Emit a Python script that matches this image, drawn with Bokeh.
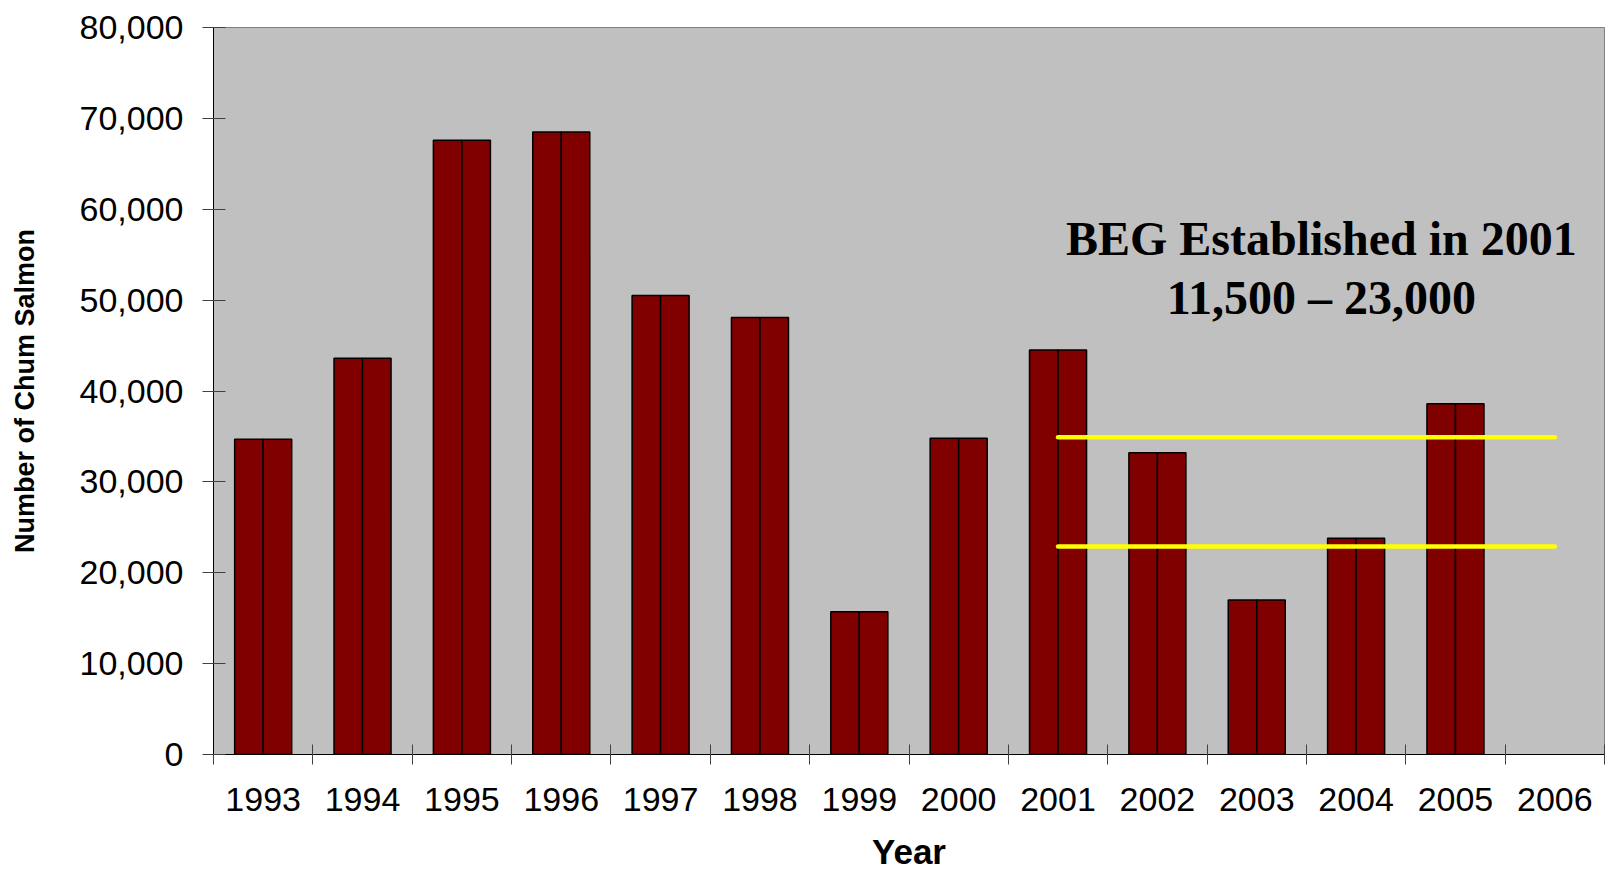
from bokeh.plotting import figure
from bokeh.models import FixedTicker, NumeralTickFormatter, Range1d, ColumnDataSource, Label
from bokeh.embed import file_html
from bokeh.resources import INLINE

# ---- data ----
years = ["1993", "1994", "1995", "1996", "1997", "1998", "1999",
         "2000", "2001", "2002", "2003", "2004", "2005", "2006"]
escapement = [34700, 43600, 67600, 68500, 50500, 48100, 15700,
              34800, 44500, 33200, 17000, 23800, 38600]  # 2006: no data
y_ticks = [0, 10000, 20000, 30000, 40000, 50000, 60000, 70000, 80000]
beg_lines = [34900, 22900]
beg_start_year = "2001"
beg_end_year = "2006"
note_lines = ["BEG Established in 2001", "11,500 \u2013 23,000"]

# ---- derived positions on the numeric category scale ----
centers_all = [i + 0.5 for i in range(len(years))]
centers = centers_all[:len(escapement)]
half = 0.287
src = ColumnDataSource(dict(
    xl=[c - half / 2 for c in centers],
    xr=[c + half / 2 for c in centers],
    top=escapement,
))

p = figure(width=1606, height=873, output_backend="svg", toolbar_location=None,
           x_range=Range1d(0, len(years)), y_range=Range1d(0, 80000),
           min_border_left=213, min_border_right=2, min_border_top=27,
           min_border_bottom=118)

p.background_fill_color = "#C0C0C0"
p.border_fill_color = "white"
p.outline_line_color = "#808080"
p.outline_line_width = 1
p.xgrid.visible = False
p.ygrid.visible = False

for col in ("xl", "xr"):
    p.vbar(x=col, top="top", width=half, source=src,
           fill_color="#800000", line_color="black", line_width=1.5)

x0 = centers_all[years.index(beg_start_year)]
x1 = centers_all[years.index(beg_end_year)]
for v in beg_lines:
    p.line(x=[x0, x1], y=[v, v], line_color="#FFFF00", line_width=4.5,
           line_cap="round")

# annotation text
for txt, yv in zip(note_lines, [56800, 50300]):
    p.add_layout(Label(x=11.15, y=yv, text=txt, text_font="Liberation Serif",
                       text_font_style="bold", text_font_size="48px",
                       text_align="center", text_baseline="middle",
                       text_color="black"))

# x axis
xa = p.xaxis[0]
xa.ticker = FixedTicker(ticks=centers_all, minor_ticks=list(range(len(years) + 1)))
xa.major_label_overrides = {c: y for c, y in zip(centers_all, years)}
xa.major_tick_in = 0
xa.major_tick_out = 0
xa.minor_tick_in = 10
xa.minor_tick_out = 10
xa.minor_tick_line_color = "#404040"
xa.axis_line_color = "black"
xa.major_label_text_font = "Liberation Sans"
xa.major_label_text_font_size = "34px"
xa.major_label_text_color = "black"
xa.major_label_standoff = 23
xa.axis_label = "Year"
xa.axis_label_text_font = "Liberation Sans"
xa.axis_label_text_font_style = "bold"
xa.axis_label_text_font_size = "35px"
xa.axis_label_text_color = "black"
xa.axis_label_standoff = 18

# y axis
ya = p.yaxis[0]
ya.ticker = FixedTicker(ticks=y_ticks, minor_ticks=[])
ya.formatter = NumeralTickFormatter(format="0,0")
ya.major_tick_in = 12
ya.major_tick_out = 11
ya.major_tick_line_color = "#404040"
ya.axis_line_color = "black"
ya.major_label_text_font = "Liberation Sans"
ya.major_label_text_font_size = "34px"
ya.major_label_text_color = "black"
ya.major_label_standoff = 19
ya.axis_label = "Number of Chum Salmon"
ya.axis_label_text_font = "Liberation Sans"
ya.axis_label_text_font_style = "bold"
ya.axis_label_text_font_size = "27px"
ya.axis_label_text_color = "black"
ya.axis_label_standoff = 37

open("out.html", "w").write(file_html(p, INLINE))
